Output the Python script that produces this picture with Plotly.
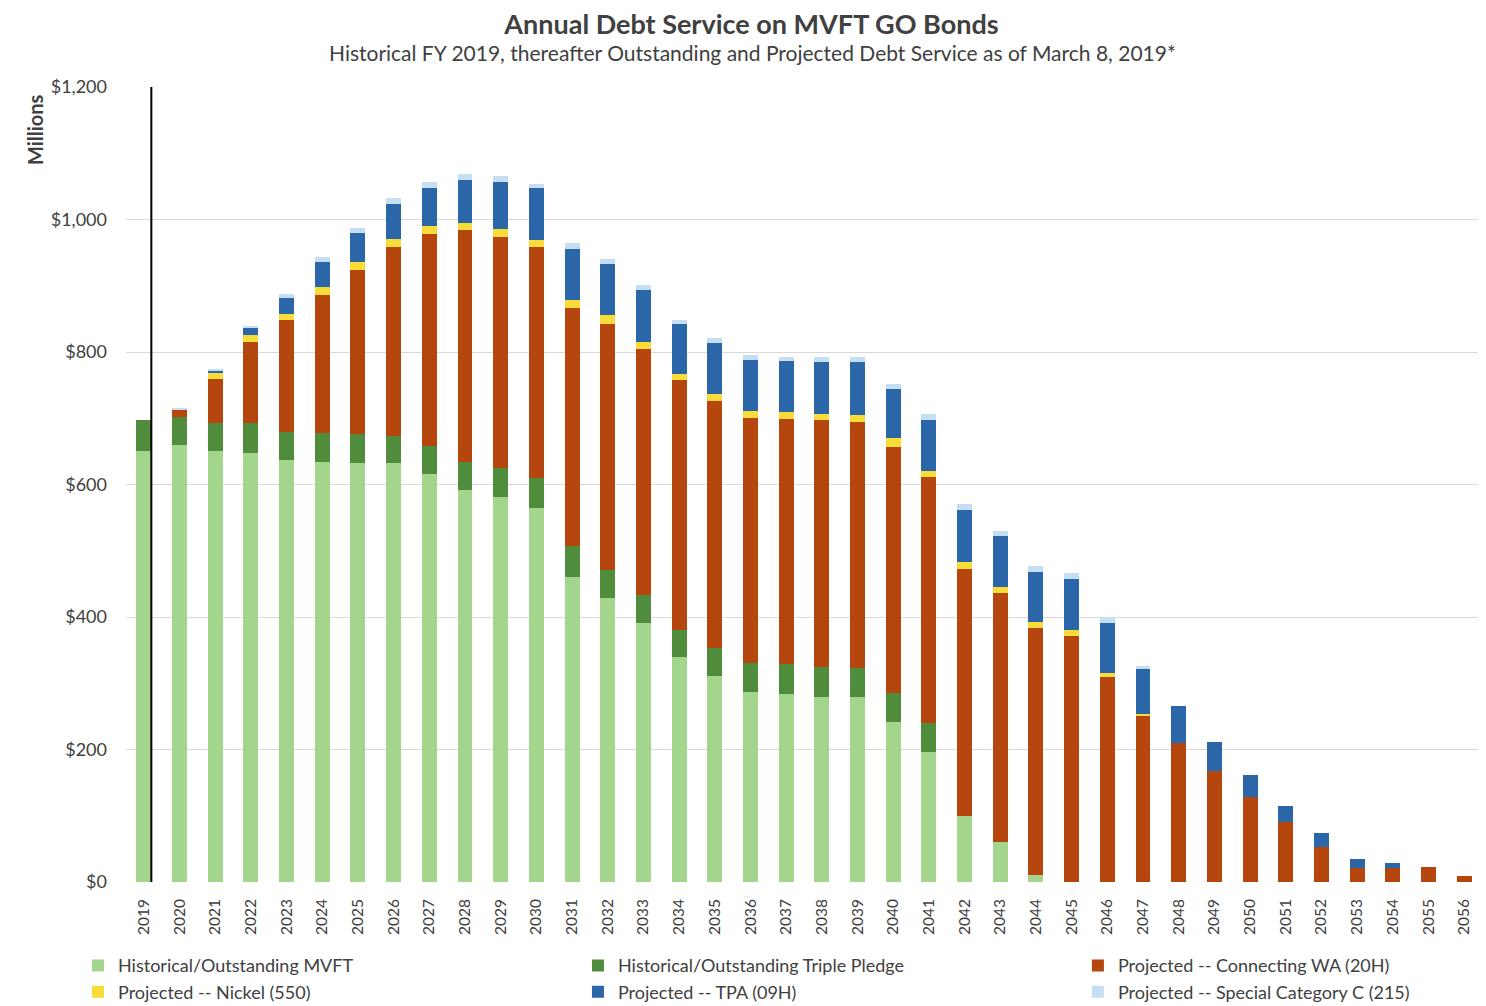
import plotly.graph_objects as go

years = [str(y) for y in range(2019, 2057)]

# $ millions
mvft = [651, 660, 650, 648, 637, 634, 633, 632, 616, 592, 581, 564, 460, 429, 391, 340,
        311, 287, 284, 279, 279, 241, 196, 99, 61, 10, 0, 0, 0, 0, 0, 0, 0, 0, 0, 0, 0, 0]
triple_pledge = [46, 42, 43, 45, 43, 44, 43, 41, 42, 42, 44, 46, 47, 42, 42, 40,
                 42, 43, 45, 45, 44, 44, 44, 0, 0, 0, 0, 0, 0, 0, 0, 0, 0, 0, 0, 0, 0, 0]
connecting_wa = [0, 11, 67, 122, 168, 208, 248, 285, 320, 350, 348, 348, 360, 372, 371, 377,
                 373, 371, 370, 373, 372, 372, 372, 374, 375, 373, 371, 310, 252, 210, 168, 129,
                 90, 53, 21, 21, 22, 9]
nickel = [0, 0, 8, 11, 10, 12, 12, 12, 12, 11, 12, 11, 11, 13, 11, 10,
          11, 10, 11, 10, 10, 13, 9, 10, 10, 10, 10, 6, 2, 0, 0, 0, 0, 0, 0, 0, 0, 0]
tpa = [0, 0, 4, 10, 24, 38, 44, 53, 58, 65, 72, 78, 77, 77, 78, 76,
       77, 77, 76, 78, 80, 74, 76, 78, 76, 75, 76, 75, 69, 56, 43, 33, 25, 21, 13, 7, 0, 0]
special_c = [0, 1, 3, 4, 6, 7, 7, 9, 9, 8, 8, 7, 9, 8, 8, 6,
             7, 7, 7, 7, 7, 8, 10, 9, 8, 9, 9, 9, 3, 0, 0, 0, 0, 0, 0, 0, 0, 0]

series = [
    ('Historical/Outstanding MVFT', mvft, '#a3d58c', 'legend'),
    ('Historical/Outstanding Triple Pledge', triple_pledge, '#4f8c3c', 'legend2'),
    ('Projected -- Connecting WA (20H)', connecting_wa, '#b5470e', 'legend3'),
    ('Projected -- Nickel (550)', nickel, '#f7dc3a', 'legend'),
    ('Projected -- TPA (09H)', tpa, '#2b67a8', 'legend2'),
    ('Projected -- Special Category C (215)', special_c, '#c6def2', 'legend3'),
]

fig = go.Figure()
for name, vals, color, leg in series:
    fig.add_trace(go.Bar(
        x=years, y=vals, name=name,
        marker=dict(color=color, line=dict(width=0)),
        legend=leg,
    ))

# divider between historical FY 2019 and projections
fig.add_shape(type='line', xref='x', yref='y', x0=0.21, x1=0.21, y0=0, y1=1200,
              line=dict(color='black', width=2))

fig.add_annotation(text='<b>Millions</b>', xref='paper', yref='paper',
                   x=-0.067, y=0.946, xanchor='center', yanchor='middle',
                   textangle=-90, showarrow=False,
                   font=dict(size=20, color='#404040'))

fig.add_annotation(text='Historical FY 2019, thereafter Outstanding and Projected Debt Service '
                        'as of March 8, 2019*',
                   xref='paper', yref='paper', x=0.4617, y=1.044, xanchor='center',
                   yanchor='middle', showarrow=False,
                   font=dict(size=21, color='#404040'))

legend_style = dict(orientation='v', yanchor='top', y=-0.082, traceorder='normal',
                    font=dict(size=18, color='#404040'), bgcolor='rgba(0,0,0,0)',
                    itemwidth=30, tracegroupgap=0)

# page body adds an 8px margin, so the figure is 8px smaller than the window
fig.update_layout(
    width=1478, height=998,
    barmode='stack', bargap=0.58,
    paper_bgcolor='white', plot_bgcolor='white',
    font=dict(family='Lato', color='#404040'),
    title=dict(
        text='<b>Annual Debt Service on MVFT GO Bonds</b>',
        x=0.503, xanchor='center', xref='container',
        y=0.983, yanchor='middle', yref='container',
        font=dict(size=27, color='#404040')),
    margin=dict(l=118, r=4, t=79, b=124, autoexpand=False),
    legend=dict(x=-0.0354, xanchor='left', **legend_style),
    legend2=dict(x=0.3333, xanchor='left', **legend_style),
    legend3=dict(x=0.702, xanchor='left', **legend_style),
)

fig.update_xaxes(type='category', range=[-0.5, 37.5], tickangle=-90,
                 tickfont=dict(size=15.5, color='#404040'), showgrid=False,
                 showline=False, ticks='', ticklabelstandoff=13, automargin=False)
fig.update_yaxes(range=[0, 1200], tickvals=[0, 200, 400, 600, 800, 1000, 1200],
                 ticktext=['$0', '$200', '$400', '$600', '$800', '$1,000', '$1,200'],
                 tickfont=dict(size=18, color='#404040'), gridcolor='#d9d9d9',
                 zeroline=False, showline=False, ticklabelstandoff=18, automargin=False)

fig.write_html('out.html')
